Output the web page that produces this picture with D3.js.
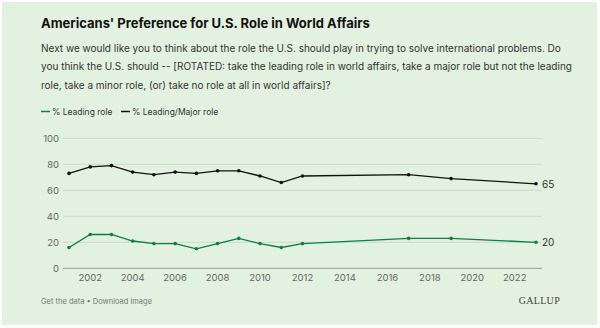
<!DOCTYPE html>
<html>
<head>
<meta charset="utf-8">
<script src="https://cdn.jsdelivr.net/npm/d3@7"></script>
<style>
  body { margin: 0; background: #fff; }
  svg { display: block; }
</style>
</head>
<body>
<div id="chart"></div>
<script>
// Datos
const years = [2001, 2002, 2003, 2004, 2005, 2006, 2007, 2008, 2009, 2010, 2011, 2012, 2017, 2019, 2023];
const leadingMajor = [73, 78, 79, 74, 72, 74, 73, 75, 75, 71, 66, 71, 72, 69, 65];
const leading = [16, 26, 26, 21, 19, 19, 15, 19, 23, 19, 16, 19, 23, 23, 20];
const yTicks = [0, 20, 40, 60, 80, 100];
const xTicks = [2002, 2004, 2006, 2008, 2010, 2012, 2014, 2016, 2018, 2020, 2022];
const seriesNames = ["% Leading role", "% Leading/Major role"];

const width = 600, height = 328;
const font = "Inter, 'Noto Sans', sans-serif";
const green = "#0b8040", black = "#111";

const svg = d3.select("#chart").append("svg")
  .attr("width", width)
  .attr("height", height);

// Fondo
svg.append("rect")
  .attr("x", 2).attr("y", 2)
  .attr("width", 595).attr("height", 323)
  .attr("fill", "#e3f1e0");

// Título y pregunta
svg.append("text")
  .attr("x", 41).attr("y", 27.5)
  .style("font-family", font)
  .style("font-size", "13px")
  .style("font-weight", "700")
  .attr("fill", "#111")
  .text("Americans' Preference for U.S. Role in World Affairs");

const lines = [
  "Next we would like you to think about the role the U.S. should play in trying to solve international problems. Do",
  "you think the U.S. should -- [ROTATED: take the leading role in world affairs, take a major role but not the leading",
  "role, take a minor role, (or) take no role at all in world affairs]?"
];
svg.append("g").selectAll("text")
  .data(lines)
  .enter()
  .append("text")
  .attr("x", 41)
  .attr("y", (d, i) => 51.5 + i * 18.5)
  .style("font-family", font)
  .style("font-size", "10px")
  .attr("fill", "#333")
  .text(d => d);

// Leyenda
const legend = svg.append("g").attr("transform", "translate(41,111.5)");
const legendItems = [
  { name: seriesNames[0], color: green, x: 0 },
  { name: seriesNames[1], color: black, x: 80 }
];
legendItems.forEach(item => {
  legend.append("line")
    .attr("x1", item.x).attr("x2", item.x + 9)
    .attr("y1", 0).attr("y2", 0)
    .attr("stroke", item.color)
    .attr("stroke-width", 1.5);
  legend.append("text")
    .attr("x", item.x + 11).attr("y", 3.2)
    .style("font-family", font)
    .style("font-size", "8.5px")
    .attr("fill", "#333")
    .text(item.name);
});

// Escalas
const x = d3.scaleLinear().domain([2001, 2023]).range([69, 536]);
const y = d3.scaleLinear().domain([0, 100]).range([268.3, 138.3]);

// Rejilla
svg.append("g").selectAll("line")
  .data(yTicks)
  .enter()
  .append("line")
  .attr("x1", 63).attr("x2", 542)
  .attr("y1", d => y(d)).attr("y2", d => y(d))
  .attr("stroke", d => d === 0 ? "#9a9a9a" : "#cdd9ca")
  .attr("stroke-width", 1);

svg.append("g").selectAll("text")
  .data(yTicks)
  .enter()
  .append("text")
  .attr("x", 59)
  .attr("y", d => y(d) + 3.5)
  .attr("text-anchor", "end")
  .style("font-family", font)
  .style("font-size", "9.5px")
  .attr("fill", "#666")
  .text(d => d);

svg.append("g").selectAll("text")
  .data(xTicks)
  .enter()
  .append("text")
  .attr("x", d => x(d))
  .attr("y", 281)
  .attr("text-anchor", "middle")
  .style("font-family", font)
  .style("font-size", "9.5px")
  .attr("fill", "#666")
  .text(d => d);

// Series
const series = [
  { values: leadingMajor, color: black },
  { values: leading, color: green }
];
const line = d3.line()
  .x(d => x(d[0]))
  .y(d => y(d[1]));

series.forEach(s => {
  const pts = years.map((yr, i) => [yr, s.values[i]]);
  svg.append("path")
    .datum(pts)
    .attr("d", line)
    .attr("fill", "none")
    .attr("stroke", s.color)
    .attr("stroke-width", 1.3);
  svg.append("g").selectAll("circle")
    .data(pts)
    .enter()
    .append("circle")
    .attr("cx", d => x(d[0]))
    .attr("cy", d => y(d[1]))
    .attr("r", 1.8)
    .attr("fill", s.color);
  const last = pts[pts.length - 1];
  svg.append("text")
    .attr("x", x(last[0]) + 6)
    .attr("y", y(last[1]) + 4)
    .style("font-family", font)
    .style("font-size", "10px")
    .attr("fill", "#333")
    .text(last[1]);
});

// Pie
svg.append("text")
  .attr("x", 41).attr("y", 303.5)
  .style("font-family", font)
  .style("font-size", "7.5px")
  .attr("fill", "#777")
  .text("Get the data \u2022 Download image");

svg.append("text")
  .attr("x", 560).attr("y", 303.5)
  .attr("text-anchor", "end")
  .style("font-family", "'Liberation Serif', 'DejaVu Serif', serif")
  .style("font-size", "10px")
  .style("letter-spacing", "0.3px")
  .attr("fill", "#444")
  .text("GALLUP");
</script>
</body>
</html>
